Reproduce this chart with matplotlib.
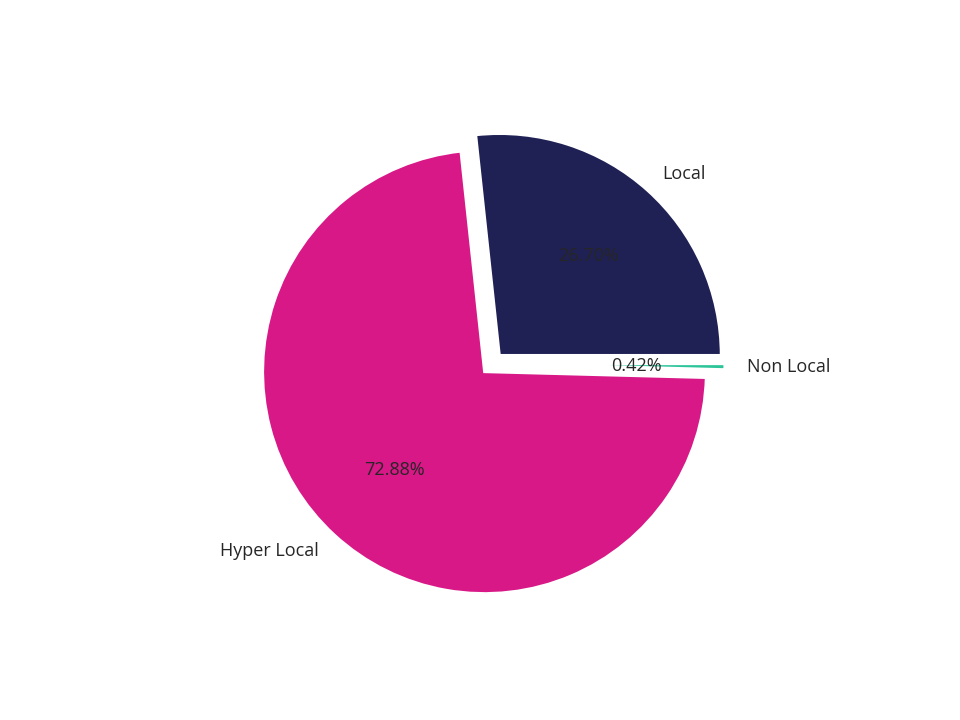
import matplotlib
matplotlib.use("Agg")
import matplotlib.pyplot as plt

labels = ["Local", "Hyper Local", "Non Local"]
shares = [26.70, 72.88, 0.42]
colors = ["#1f2054", "#d81887", "#2ec49a"]
explode = [0.05, 0.05, 0.05]

plt.rcParams['font.family'] = ['Open Sans', 'DejaVu Sans']

fig, ax = plt.subplots(figsize=(9.6, 7.2), dpi=100)

wedges, texts, autotexts = ax.pie(
    shares, labels=labels, colors=colors, explode=explode,
    autopct='%.2f%%', startangle=0,
    wedgeprops={'edgecolor': 'white', 'linewidth': 2},
    textprops={'color': '#262626', 'fontsize': 13})

fig.savefig("out.png")
